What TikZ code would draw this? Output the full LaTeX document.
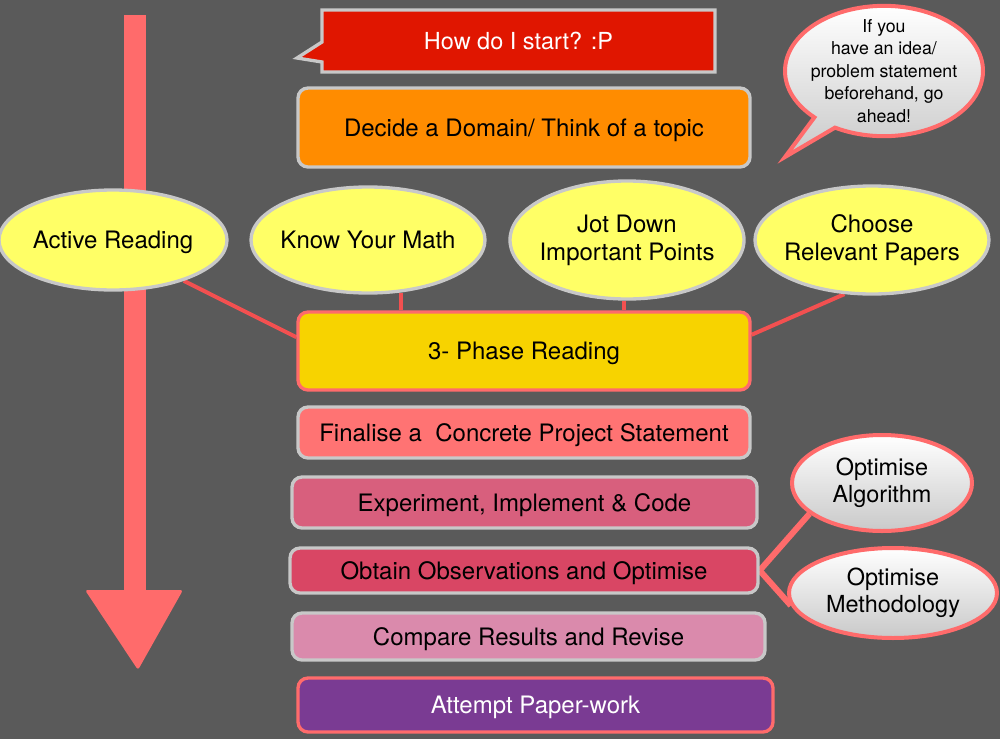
\documentclass[tikz,border=0pt]{standalone}
\usepackage{fontspec}
\setmainfont{TeX Gyre Heros}
\usetikzlibrary{shapes.geometric,shapes.callouts,backgrounds,calc}
\definecolor{bgc}{HTML}{5A5A5A}
\definecolor{grayb}{HTML}{C8C8C8}
\definecolor{salmon}{HTML}{FF6B6B}
\definecolor{linec}{HTML}{F25050}
\definecolor{startc}{HTML}{E01600}
\definecolor{orangec}{HTML}{FF8C00}
\definecolor{yelc}{HTML}{FFFF66}
\definecolor{goldc}{HTML}{F7D300}
\definecolor{finc}{HTML}{FF7373}
\definecolor{expc}{HTML}{D85F7D}
\definecolor{obsc}{HTML}{D94664}
\definecolor{cmpc}{HTML}{DA8AAC}
\definecolor{purc}{HTML}{7A3B93}
\definecolor{shadec}{HTML}{C9C9C9}
\begin{document}
\begin{tikzpicture}[x=0.75pt,y=-0.75pt,
  txt/.style={font=\fontsize{18}{21}\selectfont},
  box/.style={rectangle, rounded corners=7.5pt, draw=grayb, line width=2.5pt,
    inner sep=0pt, txt, text=black, text depth=0pt},
  ell/.style={ellipse, draw=grayb, line width=2.5pt, fill=yelc, inner xsep=-14pt, inner ysep=-4pt,
    align=center, txt, text=black},
  gell/.style={ellipse, draw=salmon, line width=3pt, top color=white, bottom color=shadec,
    inner xsep=-14pt, inner ysep=-4pt, align=center, font=\fontsize{17.6}{20.5}\selectfont, text=black},
  conn/.style={draw=linec, line width=3pt},
  conn2/.style={draw=salmon, line width=4.5pt}
]
\useasboundingbox (0,0) rectangle (1000,739);

% big arrow
\fill[salmon] (124,15) rectangle (146,596);
\fill[salmon, rounded corners=2pt] (85,590) -- (183,590) -- (138,670) -- cycle;

% boxes
\node[rectangle callout, draw=grayb, line width=2.5pt, fill=startc, text=white,
  font=\fontsize{17.6}{21}\selectfont,
  minimum width=294.75pt, minimum height=46.5pt, inner sep=0pt,
  callout absolute pointer={(297,58)}, callout pointer width=15pt]
  (start) at (518.5,41) {How do I start? :P};
\node[box, fill=orangec, minimum width=339pt, minimum height=59.25pt]
  (domain) at (524,127.5) {Decide a Domain/ Think of a topic};

\node[ellipse callout, draw=salmon, line width=3pt, top color=white, bottom color=shadec,
  minimum width=148.5pt, minimum height=94.5pt, inner xsep=-12pt, inner ysep=-4pt, align=center,
  font=\fontsize{13.3}{16.8}\selectfont, text=black,
  callout absolute pointer={(785,157)}, callout pointer width=22pt]
  (bubble) at (884,71) {If you\\have an idea/\\problem statement\\beforehand, go\\ahead!};

\node[ell, text depth=0pt, minimum width=171pt, minimum height=75pt] (ar) at (113,240) {Active Reading};
\node[ell, text depth=0pt, minimum width=175.5pt, minimum height=79.5pt] (km) at (368,240) {Know Your Math};
\node[ell, minimum width=175.5pt, minimum height=88.5pt, font=\fontsize{18}{21}\selectfont] (jd) at (627,240) {Jot Down\\Important Points};
\node[ell, minimum width=175.5pt, minimum height=81pt, font=\fontsize{18}{21}\selectfont] (cp) at (872,240) {Choose\\Relevant Papers};

\node[box, draw=salmon, fill=goldc, minimum width=339pt, minimum height=58.5pt]
  (pr) at (524,351) {3- Phase Reading};
\node[box, fill=finc, minimum width=339pt, minimum height=38.25pt]
  (fin) at (524,432.5) {Finalise a\ \ Concrete Project Statement};
\node[box, fill=expc, minimum width=348.75pt, minimum height=38.25pt]
  (exp) at (524.5,502.5) {Experiment, Implement \& Code};
\node[box, fill=obsc, minimum width=351pt, minimum height=33.75pt]
  (obs) at (524,570.5) {Obtain Observations and Optimise};
\node[box, fill=cmpc, minimum width=354.75pt, minimum height=35.25pt]
  (cmp) at (528.5,636.5) {Compare Results and Revise};
\node[box, draw=salmon, fill=purc, text=white, minimum width=356.25pt, minimum height=40.5pt]
  (att) at (535.5,705) {Attempt Paper-work};

\node[gell, minimum width=135pt, minimum height=72pt] (oa) at (882,483) {Optimise\\Algorithm};
\node[gell, minimum width=156pt, minimum height=67.5pt] (om) at (893,593) {Optimise\\Methodology};

\begin{pgfonlayer}{background}
\fill[bgc] (0,0) rectangle (1000,739);
\draw[conn] (ar.-30) -- ($(pr.north west)!0.33!(pr.south west)$);
\draw[conn] (km.-58) -- (km.-58 |- pr.north);
\draw[conn] (jd.-93) -- (jd.-93 |- pr.north);
\draw[conn] (cp.-117) -- ($(pr.north east)!0.3!(pr.south east)$);
\draw[conn2] (obs.east) -- (oa.-157);
\draw[conn2] (obs.east) -- (om.-173);
\end{pgfonlayer}
\end{tikzpicture}
\end{document}
